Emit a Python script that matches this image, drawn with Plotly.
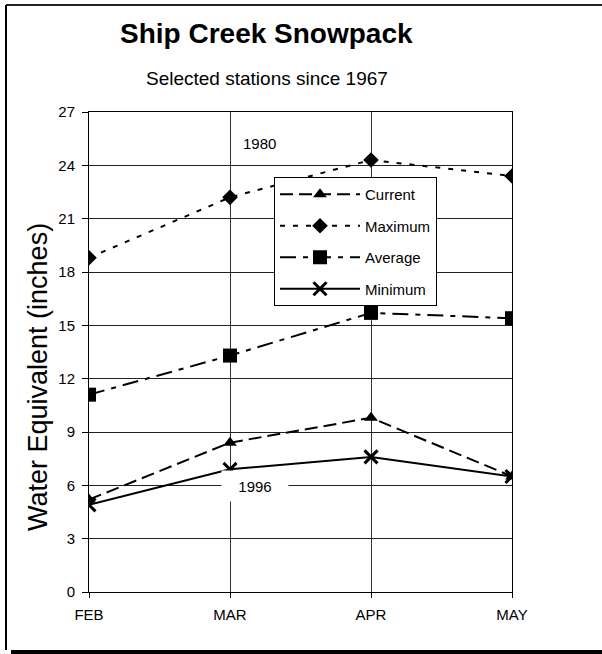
import plotly.graph_objects as go

months = ["FEB", "MAR", "APR", "MAY"]
current = [5.2, 8.4, 9.8, 6.5]
maximum = [18.8, 22.2, 24.3, 23.4]
average = [11.1, 13.3, 15.7, 15.4]
minimum = [4.9, 6.9, 7.6, 6.5]
y_ticks = [0, 3, 6, 9, 12, 15, 18, 21, 24, 27]

xs = list(range(len(months)))

# plot area in pixels
L, R, T, B = 89, 512, 112, 592
W, H = 602, 654
pw, ph = R - L, B - T

def px(x):
    return (x - L) / pw

def py(y):
    return (B - y) / ph

FONT = "Liberation Sans, Arial, sans-serif"
SMALL = 15

fig = go.Figure()
fig.add_trace(go.Scatter(x=xs, y=current, name="Current", legendgroup="a",
                         mode="lines+markers",
                         line=dict(color="black", width=2, dash="13px,6px"),
                         marker=dict(symbol="triangle-up", size=12, color="black")))
fig.add_trace(go.Scatter(x=xs, y=maximum, name="Maximum", legendgroup="b",
                         mode="lines+markers",
                         line=dict(color="black", width=2, dash="5px,8px"),
                         marker=dict(symbol="diamond", size=12, color="black")))
fig.add_trace(go.Scatter(x=xs, y=average, name="Average", legendgroup="c",
                         mode="lines+markers",
                         line=dict(color="black", width=2, dash="16px,7px,5px,7px"),
                         marker=dict(symbol="square", size=14, color="black")))
fig.add_trace(go.Scatter(x=xs, y=minimum, name="Minimum", legendgroup="d",
                         mode="lines+markers",
                         line=dict(color="black", width=2),
                         marker=dict(symbol="x-thin-open", size=13, color="black",
                                     line=dict(color="black", width=3))))

fig.update_layout(
    width=W, height=H,
    margin=dict(l=L, r=W - R, t=T, b=H - B),
    paper_bgcolor="white", plot_bgcolor="white",
    font=dict(family=FONT, color="black", size=SMALL),
    showlegend=True,
    legend=dict(x=px(274), y=py(177), xanchor="left", yanchor="top",
                bgcolor="white", bordercolor="black", borderwidth=1,
                font=dict(size=SMALL, family=FONT), itemwidth=80,
                tracegroupgap=9, traceorder="grouped"),
    xaxis=dict(range=[0, 3], tickmode="array", tickvals=xs, ticktext=months,
               showgrid=True, gridcolor="#333", gridwidth=1,
               showline=True, linecolor="black", linewidth=1, mirror=True,
               ticks="outside", ticklen=5, tickcolor="black",
               ticklabelstandoff=4, zeroline=False,
               tickfont=dict(size=SMALL, family=FONT)),
    yaxis=dict(range=[0, 27], tickmode="array", tickvals=y_ticks,
               showgrid=True, gridcolor="#222", gridwidth=1,
               showline=True, linecolor="black", linewidth=1, mirror=True,
               ticks="outside", ticklen=6, tickcolor="black", zeroline=False,
               ticklabelstandoff=4,
               tickfont=dict(size=SMALL, family=FONT)),
)

ann = [
    dict(text="<b>Ship Creek Snowpack</b>", x=px(266), y=py(34), xref="paper", yref="paper",
         showarrow=False, font=dict(size=28, family=FONT), xanchor="center", yanchor="middle"),
    dict(text="Selected stations since 1967", x=px(267), y=py(78), xref="paper", yref="paper",
         showarrow=False, font=dict(size=19, family=FONT), xanchor="center", yanchor="middle"),
    dict(text="Water Equivalent (inches)", x=px(38), y=py(377), xref="paper", yref="paper",
         showarrow=False, textangle=-90, font=dict(size=27, family=FONT),
         xanchor="center", yanchor="middle"),
    dict(text="1980", x=1.21, y=25.25, xref="x", yref="y", showarrow=False,
         font=dict(size=SMALL, family=FONT), bgcolor="white"),
    dict(text="1996", x=1.177, y=5.96, xref="x", yref="y", showarrow=False,
         font=dict(size=SMALL, family=FONT), bgcolor="white", width=64, height=28),
]
fig.update_layout(annotations=ann)

# outer frame (left/top line, thick bottom line)
fig.add_shape(type="line", xref="paper", yref="paper", x0=px(6), y0=py(5), x1=px(602), y1=py(5),
              line=dict(color="#222", width=2))
fig.add_shape(type="line", xref="paper", yref="paper", x0=px(6), y0=py(5), x1=px(6), y1=py(650),
              line=dict(color="black", width=2))
fig.add_shape(type="line", xref="paper", yref="paper", x0=px(11), y0=py(652), x1=px(602), y1=py(652),
              line=dict(color="black", width=4))

fig.write_html("out.html", config={"displayModeBar": False},
               post_script="document.body.style.margin='0';")
